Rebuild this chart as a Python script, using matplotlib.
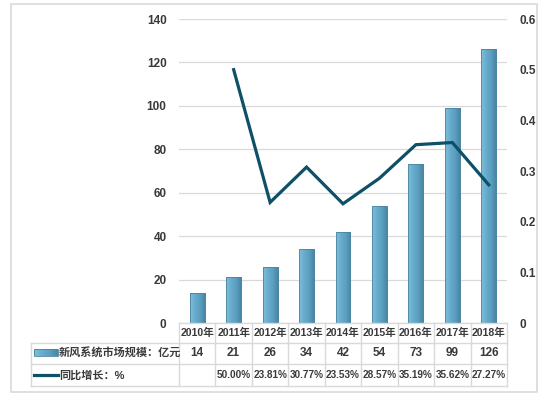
import numpy as np
import matplotlib.pyplot as plt
from matplotlib.colors import LinearSegmentedColormap
from matplotlib.patches import Rectangle

# 数据
years = ["2010年", "2011年", "2012年", "2013年", "2014年", "2015年", "2016年", "2017年", "2018年"]
market_size = [14, 21, 26, 34, 42, 54, 73, 99, 126]
growth = [None, 0.5000, 0.2381, 0.3077, 0.2353, 0.2857, 0.3519, 0.3562, 0.2727]
bar_label = "新风系统市场规模：亿元"
line_label = "同比增长：%"

FONT = ["Liberation Sans Narrow", "Liberation Sans", "Noto Sans CJK SC", "DejaVu Sans"]
plt.rcParams["font.family"] = FONT
TXT = "#3a3a3a"
GRID = "#d9d9d9"
LINE_C = "#0d5068"

W, H = 548, 398
fig = plt.figure(figsize=(W / 100, H / 100), dpi=100)

# 绘图区 (像素)
px_l, px_r, px_t, px_b = 179, 507, 19, 323
ax = fig.add_axes([px_l / W, 1 - px_b / H, (px_r - px_l) / W, (px_b - px_t) / H])
ax2 = ax.twinx()

n = len(years)
x = np.arange(n)
bar_cmap = LinearSegmentedColormap.from_list("bar", ["#80bedb", "#68adcd", "#5c9fc0", "#4a87a5"])
bars = ax.bar(x, market_size, width=0.41, color="#5fa3c4", edgecolor="#4a85a2", linewidth=0.6, zorder=2)
grad = np.linspace(0, 1, 64).reshape(1, -1)
for b in bars:
    im = ax.imshow(grad, cmap=bar_cmap, aspect="auto", zorder=2.5,
                   extent=[b.get_x(), b.get_x() + b.get_width(), 0, b.get_height()])
    im.set_clip_path(b)
    ax.add_patch(Rectangle((b.get_x(), 0), b.get_width(), b.get_height(), fill=False,
                           edgecolor="#4a85a2", linewidth=0.6, zorder=3))

ax.set_xlim(-0.5, n - 0.5)
ax.set_ylim(0, 140)
ax.set_yticks(range(0, 141, 20))
ax.yaxis.grid(True, color=GRID, linewidth=0.9, zorder=0)
ax.set_axisbelow(True)
ax.set_xticks([])
ax.tick_params(axis="y", length=0, pad=9, labelsize=8.5, labelcolor=TXT)

gx = [i for i, g in enumerate(growth) if g is not None]
gy = [g for g in growth if g is not None]
ax2.plot(gx, gy, color=LINE_C, linewidth=2.3, solid_joinstyle="miter", zorder=5)
ax2.set_ylim(0, 0.6)
ax2.set_yticks(np.arange(0, 0.61, 0.1))
ax2.set_yticklabels(["0"] + [f"{v:.1f}" for v in np.arange(0.1, 0.61, 0.1)])
ax2.tick_params(axis="y", length=0, pad=9, labelsize=8.5, labelcolor=TXT)

for a in (ax, ax2):
    for s in a.spines.values():
        s.set_visible(False)
for lbl in ax.get_yticklabels() + ax2.get_yticklabels():
    lbl.set_fontweight("bold")

# 数据表 (像素坐标叠加层)
tab = fig.add_axes([0, 0, 1, 1], zorder=10)
tab.set_xlim(0, W)
tab.set_ylim(H, 0)
tab.axis("off")
tab.patch.set_alpha(0)

# 外框
tab.add_patch(Rectangle((11, 4), 526, 388, fill=False, edgecolor=GRID, linewidth=1.2))

col_w = (px_r - px_l) / n
rows_y = [323, 343, 364, 386]
tab_l = 31
lc = dict(color=GRID, linewidth=1.0)
tab.plot([px_l, px_r], [rows_y[0]] * 2, **lc)
for yy in rows_y[1:]:
    tab.plot([tab_l, px_r], [yy] * 2, **lc)
tab.plot([tab_l, tab_l], [rows_y[1], rows_y[3]], **lc)
for i in range(n + 1):
    xx = px_l + i * col_w
    tab.plot([xx, xx], [rows_y[0], rows_y[3]], **lc)

fs = 7.6
for i in range(n):
    cx = px_l + (i + 0.5) * col_w
    tab.text(cx, (rows_y[0] + rows_y[1]) / 2, years[i], ha="center", va="center",
             fontsize=fs, color=TXT, fontweight="bold")
    tab.text(cx, (rows_y[1] + rows_y[2]) / 2, str(market_size[i]), ha="center", va="center",
             fontsize=8.5, color=TXT, fontweight="bold")
    if growth[i] is not None:
        tab.text(cx, (rows_y[2] + rows_y[3]) / 2, f"{growth[i] * 100:.2f}%", ha="center",
                 va="center", fontsize=7.2, color=TXT, fontweight="bold")

# 图例
tab.imshow(np.linspace(0, 1, 32).reshape(1, -1), cmap=bar_cmap, aspect="auto",
           extent=[34, 58, 356, 349], zorder=3)
tab.add_patch(Rectangle((34, 349), 24, 7, fill=False, edgecolor="#4a85a2", linewidth=0.6, zorder=4))
tab.plot([34, 58], [375, 375], color=LINE_C, linewidth=2.3, zorder=4)
tab.set_xlim(0, W)
tab.set_ylim(H, 0)
tab.text(59, (rows_y[1] + rows_y[2]) / 2, bar_label, ha="left", va="center", fontsize=8,
         color=TXT, fontweight="bold")
tab.text(59, (rows_y[2] + rows_y[3]) / 2, line_label, ha="left", va="center", fontsize=8,
         color=TXT, fontweight="bold")

fig.savefig("out.png", dpi=100)
